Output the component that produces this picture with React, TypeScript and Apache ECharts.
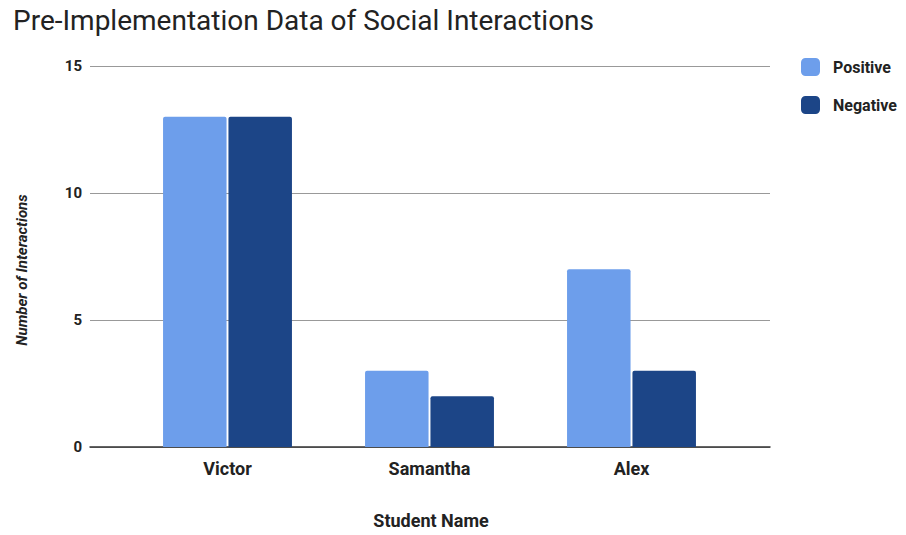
import React, { useEffect, useRef } from "react";
import * as echarts from "echarts";

const titleText = "Pre-Implementation Data of Social Interactions";
const students = ["Victor", "Samantha", "Alex"];
const positive = [13, 3, 7];
const negative = [13, 2, 3];
const yTicks = [0, 5, 10, 15];
const xTitle = "Student Name";
const yTitle = "Number of Interactions";

export default function App() {
  const ref = useRef<HTMLDivElement>(null);
  useEffect(() => {
    if (!ref.current) return;
    const chart = echarts.init(ref.current, null, { renderer: "svg" });
    const font = "Roboto";
    chart.setOption({
      animation: false,
      backgroundColor: "#ffffff",
      textStyle: { fontFamily: font },
      title: {
        text: titleText,
        left: 8,
        top: 1,
        textStyle: { fontFamily: font, fontSize: 28, fontWeight: "normal", color: "#222222" },
      },
      legend: {
        orient: "vertical",
        left: 796,
        top: 53,
        itemWidth: 19,
        itemHeight: 18,
        itemGap: 20,
        icon: "roundRect",
        data: ["Positive", "Negative"],
        textStyle: { fontFamily: font, fontSize: 16, fontWeight: "bold", color: "#222222", padding: [0, 0, 0, 8] },
      },
      grid: [
        { left: 90, right: 136, top: 66, bottom: 88 },
        { left: 126.5, right: 173.5, top: 66, bottom: 88 },
      ],
      xAxis: [
        {
          gridIndex: 0,
          type: "value",
          min: 0,
          max: 1,
          axisLine: { show: true, onZero: false, lineStyle: { color: "#333333", width: 1.5 } },
          axisTick: { show: false },
          axisLabel: { show: false },
          splitLine: { show: false },
        },
        {
          gridIndex: 1,
          type: "category",
          data: students,
          axisLine: { show: false },
          axisTick: { show: false },
          axisLabel: { fontFamily: font, fontSize: 18, fontWeight: "bold", color: "#222222", margin: 12 },
        },
      ],
      yAxis: [
        {
          gridIndex: 0,
          type: "value",
          min: yTicks[0],
          max: yTicks[yTicks.length - 1],
          interval: 5,
          axisLine: { show: false },
          axisTick: { show: false },
          axisLabel: { fontFamily: font, fontSize: 15, fontWeight: "bold", color: "#222222", margin: 8 },
          splitLine: { lineStyle: { color: "#999999", width: 1 } },
        },
        {
          gridIndex: 1,
          type: "value",
          min: yTicks[0],
          max: yTicks[yTicks.length - 1],
          interval: 5,
          show: false,
          splitLine: { show: false },
        },
      ],
      series: [
        {
          name: "Positive",
          type: "bar",
          xAxisIndex: 1,
          yAxisIndex: 1,
          data: positive,
          barWidth: 63.5,
          barGap: "3%",
          itemStyle: { color: "#6d9eeb", borderRadius: [2, 2, 0, 0] },
        },
        {
          name: "Negative",
          type: "bar",
          xAxisIndex: 1,
          yAxisIndex: 1,
          data: negative,
          barWidth: 63.5,
          barGap: "3%",
          itemStyle: { color: "#1c4587", borderRadius: [2, 2, 0, 0] },
        },
      ],
      graphic: [
        {
          type: "text",
          x: 431,
          y: 520,
          style: {
            text: xTitle,
            fontFamily: font,
            fontSize: 18,
            fontWeight: "bold",
            fill: "#222222",
            align: "center",
            verticalAlign: "middle",
          },
        },
        {
          type: "text",
          x: 22,
          y: 270,
          rotation: Math.PI / 2,
          style: {
            text: yTitle,
            fontFamily: font,
            fontSize: 15,
            fontWeight: "bold",
            fontStyle: "italic",
            fill: "#222222",
            align: "center",
            verticalAlign: "middle",
          },
        },
      ],
    });
    return () => chart.dispose();
  }, []);
  return <div ref={ref} style={{ width: 906, height: 535, position: "absolute", left: 0, top: 0 }} />;
}
